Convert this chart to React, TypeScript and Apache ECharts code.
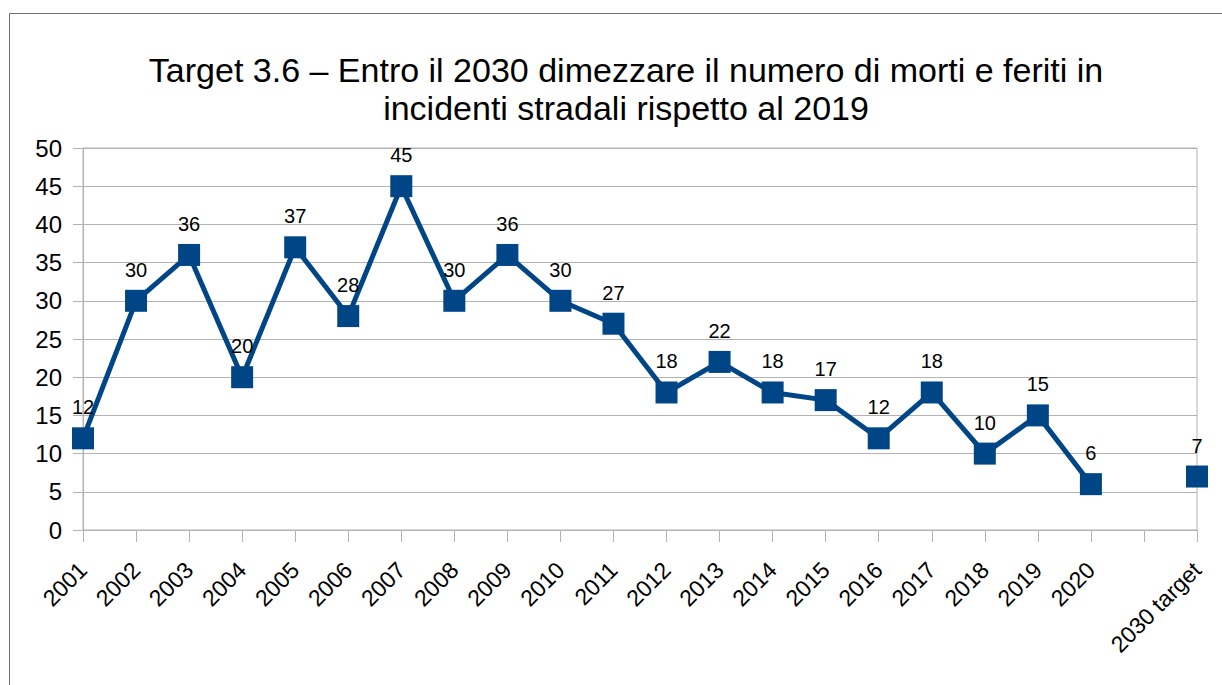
import React, { useEffect, useRef } from "react";
import * as echarts from "echarts";

const categories = [
  "2001", "2002", "2003", "2004", "2005", "2006", "2007", "2008", "2009", "2010",
  "2011", "2012", "2013", "2014", "2015", "2016", "2017", "2018", "2019", "2020",
  "", "2030 target",
];
const values: (number | null)[] = [
  12, 30, 36, 20, 37, 28, 45, 30, 36, 30,
  27, 18, 22, 18, 17, 12, 18, 10, 15, 6,
  null, 7,
];
const titleText =
  "Target 3.6 – Entro il 2030 dimezzare il numero di morti e feriti in\nincidenti stradali rispetto al 2019";

const FONT = "Liberation Sans, Arial, sans-serif";

export default function App() {
  const ref = useRef<HTMLDivElement>(null);
  useEffect(() => {
    if (!ref.current) return;
    const chart = echarts.init(ref.current, null, { renderer: "svg" });
    chart.setOption({
      animation: false,
      backgroundColor: "#ffffff",
      textStyle: { fontFamily: FONT },
      title: {
        text: titleText,
        left: 621,
        top: 46,
        textAlign: "center",
        textStyle: {
          fontFamily: FONT,
          fontSize: 34,
          fontWeight: "normal",
          color: "#000000",
          lineHeight: 38,
        },
      },
      graphic: [
        {
          type: "rect",
          shape: { x: 9.5, y: 13.5, width: 1250, height: 700 },
          style: { fill: "none", stroke: "#6e6e6e", lineWidth: 1 },
          silent: true,
        },
      ],
      grid: {
        left: 83,
        right: 25,
        top: 148,
        bottom: 155,
        show: true,
        borderColor: "#b3b3b3",
        borderWidth: 1,
        backgroundColor: "transparent",
      },
      xAxis: {
        type: "category",
        data: categories,
        boundaryGap: false,
        axisLine: { show: true, lineStyle: { color: "#b3b3b3", width: 1 } },
        axisTick: { show: true, length: 12, interval: 0, lineStyle: { color: "#b3b3b3" } },
        axisLabel: {
          interval: 0,
          rotate: 45,
          margin: 36,
          fontSize: 23,
          color: "#000000",
          fontFamily: FONT,
        },
        splitLine: { show: false },
      },
      yAxis: {
        type: "value",
        min: 0,
        max: 50,
        interval: 5,
        axisLine: { show: true, lineStyle: { color: "#b3b3b3", width: 1 } },
        axisTick: { show: true, length: 10, lineStyle: { color: "#b3b3b3" } },
        axisLabel: {
          margin: 21,
          fontSize: 24,
          color: "#000000",
          fontFamily: FONT,
        },
        splitLine: { show: true, lineStyle: { color: "#b3b3b3", width: 1 } },
      },
      series: [
        {
          type: "line",
          data: values,
          connectNulls: false,
          symbol: "rect",
          symbolSize: 22,
          lineStyle: { color: "#004586", width: 5 },
          itemStyle: { color: "#004586" },
          label: {
            show: true,
            position: "top",
            distance: 10,
            fontSize: 20,
            color: "#000000",
            fontFamily: FONT,
          },
        },
      ],
    });
    return () => chart.dispose();
  }, []);
  return (
    <div
      ref={ref}
      style={{ position: "fixed", left: 0, top: 0, width: 1222, height: 685 }}
    />
  );
}
